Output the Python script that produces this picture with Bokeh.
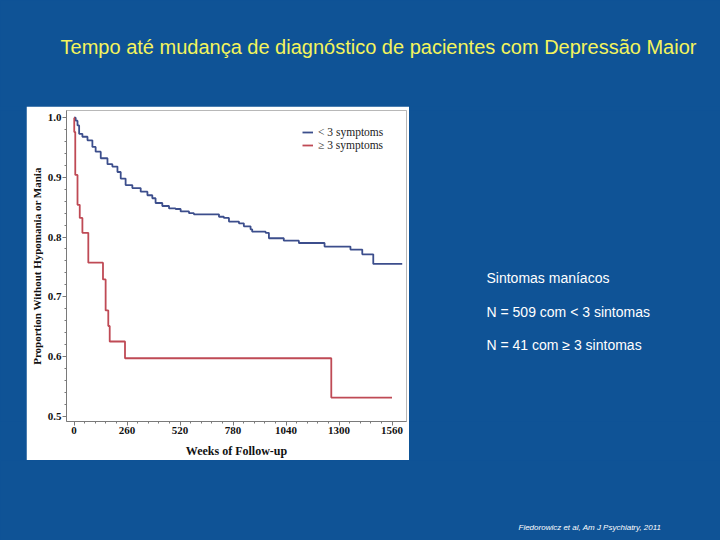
from bokeh.plotting import figure
from bokeh.models import (FixedTicker, Legend, LegendItem, Range1d, PrintfTickFormatter)
from bokeh.layouts import column, row
from bokeh.core.properties import value
from bokeh.embed import file_html
from bokeh.resources import INLINE

# ---------------- data ----------------
blue_weeks = [0, 8, 17, 25, 41, 66, 90, 106, 131, 164, 188, 213, 229, 253, 286, 327, 360, 384,
              400, 433, 466, 498, 523, 564, 588, 711, 735, 760, 809, 833, 866, 874, 940, 956,
              1029, 1103, 1229, 1356, 1414, 1468, 1610]
blue_vals = [1.0, 0.995, 0.987, 0.973, 0.968, 0.962, 0.951, 0.943, 0.932, 0.922, 0.918, 0.909,
             0.898, 0.887, 0.882, 0.876, 0.870, 0.865, 0.857, 0.852, 0.848, 0.847, 0.843, 0.840,
             0.838, 0.834, 0.832, 0.826, 0.823, 0.818, 0.813, 0.809, 0.807, 0.798, 0.794, 0.790,
             0.784, 0.779, 0.771, 0.755, 0.755]

red_weeks = [0, 1, 6, 17, 28, 41, 70, 142, 155, 168, 175, 250, 1262, 1560]
red_vals = [1.0, 0.976, 0.904, 0.854, 0.832, 0.807, 0.757, 0.729, 0.677, 0.651, 0.625, 0.597,
            0.531, 0.531]

x_ticks = [0, 260, 520, 780, 1040, 1300, 1560]
y_ticks = [0.5, 0.6, 0.7, 0.8, 0.9, 1.0]
legend_labels = ["< 3 symptoms", "\u2265 3 symptoms"]

title_text = "Tempo até mudança de diagnóstico de pacientes com Depressão Maior"
side_texts = ["Sintomas maníacos", "N = 509 com < 3 sintomas", "N = 41 com \u2265 3 sintomas"]
citation = "Fiedorowicz et al, Am J Psychiatry, 2011"

BG = "#0f5396"
W, H = 720, 540
TOP_H = 106
CW, CH = 383, 354
LEFT_W = 26
BT, BB = 4, 39      # chart frame top / bottom borders


def blank(width, height, top=0, bottom=0):
    f = figure(width=width, height=height, output_backend="svg", toolbar_location=None,
               x_range=Range1d(0, width), y_range=Range1d(height - bottom, top),
               x_axis_type=None, y_axis_type=None,
               min_border=0, min_border_left=0, min_border_right=0,
               min_border_top=top, min_border_bottom=bottom,
               styles={"background-color": BG})
    f.background_fill_color = BG
    f.border_fill_color = BG
    f.outline_line_color = None
    f.grid.visible = False
    return f


# ---------------- top: title ----------------
top = blank(W, TOP_H)
top.text(x=[378], y=[46], text=[title_text], text_align="center", text_baseline="middle",
         text_font=value("Liberation Sans"), text_font_size="20px", text_color="#f4f45c")

# ---------------- chart ----------------
p = figure(width=CW, height=CH, output_backend="svg", toolbar_location=None,
           x_range=Range1d(-37, 1631), y_range=Range1d(0.491, 1.012),
           min_border_left=40, min_border_right=3, min_border_top=BT, min_border_bottom=BB)
p.background_fill_color = "white"
p.border_fill_color = "white"
p.outline_line_color = "#b8b8b8"
p.grid.visible = False

r_blue = p.step(blue_weeks, blue_vals, mode="after", line_color="#3c4e8c", line_width=1.8)
r_red = p.step(red_weeks, red_vals, mode="after", line_color="#bf4a55", line_width=1.8)

for ax in (p.xaxis[0], p.yaxis[0]):
    ax.axis_line_color = "#7a7a7a"
    ax.major_tick_line_color = "#7a7a7a"
    ax.minor_tick_line_color = "#7a7a7a"
    ax.major_tick_out = 4
    ax.major_tick_in = 0
    ax.minor_tick_out = 2
    ax.minor_tick_in = 0
    ax.major_label_text_font = "Liberation Serif"
    ax.major_label_text_font_style = "bold"
    ax.major_label_text_font_size = "11px"
    ax.major_label_text_color = "#111111"
    ax.axis_label_text_font = "Liberation Serif"
    ax.axis_label_text_font_style = "bold"
    ax.axis_label_text_color = "#111111"

p.xaxis.ticker = FixedTicker(ticks=x_ticks, minor_ticks=list(range(0, 1561, 52)))
p.yaxis.ticker = FixedTicker(ticks=y_ticks, minor_ticks=[0.5 + 0.02 * i for i in range(26)])
p.yaxis.formatter = PrintfTickFormatter(format="%.1f")
p.xaxis.axis_label = "Weeks of Follow-up"
p.yaxis.axis_label = "Proportion Without Hypomania or Mania"
p.xaxis.axis_label_text_font_size = "12px"
p.yaxis.axis_label_text_font_size = "11px"
p.xaxis.major_label_standoff = 1
p.xaxis.axis_label_standoff = 7
p.yaxis.major_label_standoff = 1
p.yaxis.axis_label_standoff = 2

legend_style = dict(padding=0, spacing=0, glyph_width=11, glyph_height=10, label_height=10,
                    label_standoff=5, label_text_font="Liberation Serif",
                    label_text_font_size="11.5px", label_text_color="#222222",
                    border_line_color=None, background_fill_alpha=0.0)
leg1 = Legend(items=[LegendItem(label=legend_labels[0], renderers=[r_blue])],
              location=(236, 283.5), **legend_style)
leg2 = Legend(items=[LegendItem(label=legend_labels[1], renderers=[r_red])],
              location=(236, 270.5), **legend_style)
p.add_layout(leg1)
p.add_layout(leg2)

left_pad = blank(LEFT_W, CH, BT, BB)

right = blank(W - LEFT_W - CW, CH, BT, BB)
right.text(x=[77, 77, 77], y=[171, 205, 238], text=side_texts, text_align="left",
           text_baseline="middle", text_font=value("Liberation Sans"),
           text_font_size="14px", text_color="white")

# ---------------- bottom: citation ----------------
bottom = blank(W, H - TOP_H - CH)
bottom.text(x=[518], y=[67], text=[citation], text_align="left", text_baseline="middle",
            text_font=value("Liberation Sans"), text_font_style="italic",
            text_font_size="8px", text_color="white")

layout = column(top, row(left_pad, p, right, spacing=0, styles={"background-color": BG}),
                bottom, spacing=0, styles={"background-color": BG})

open("out.html", "w").write(file_html(layout, INLINE))
